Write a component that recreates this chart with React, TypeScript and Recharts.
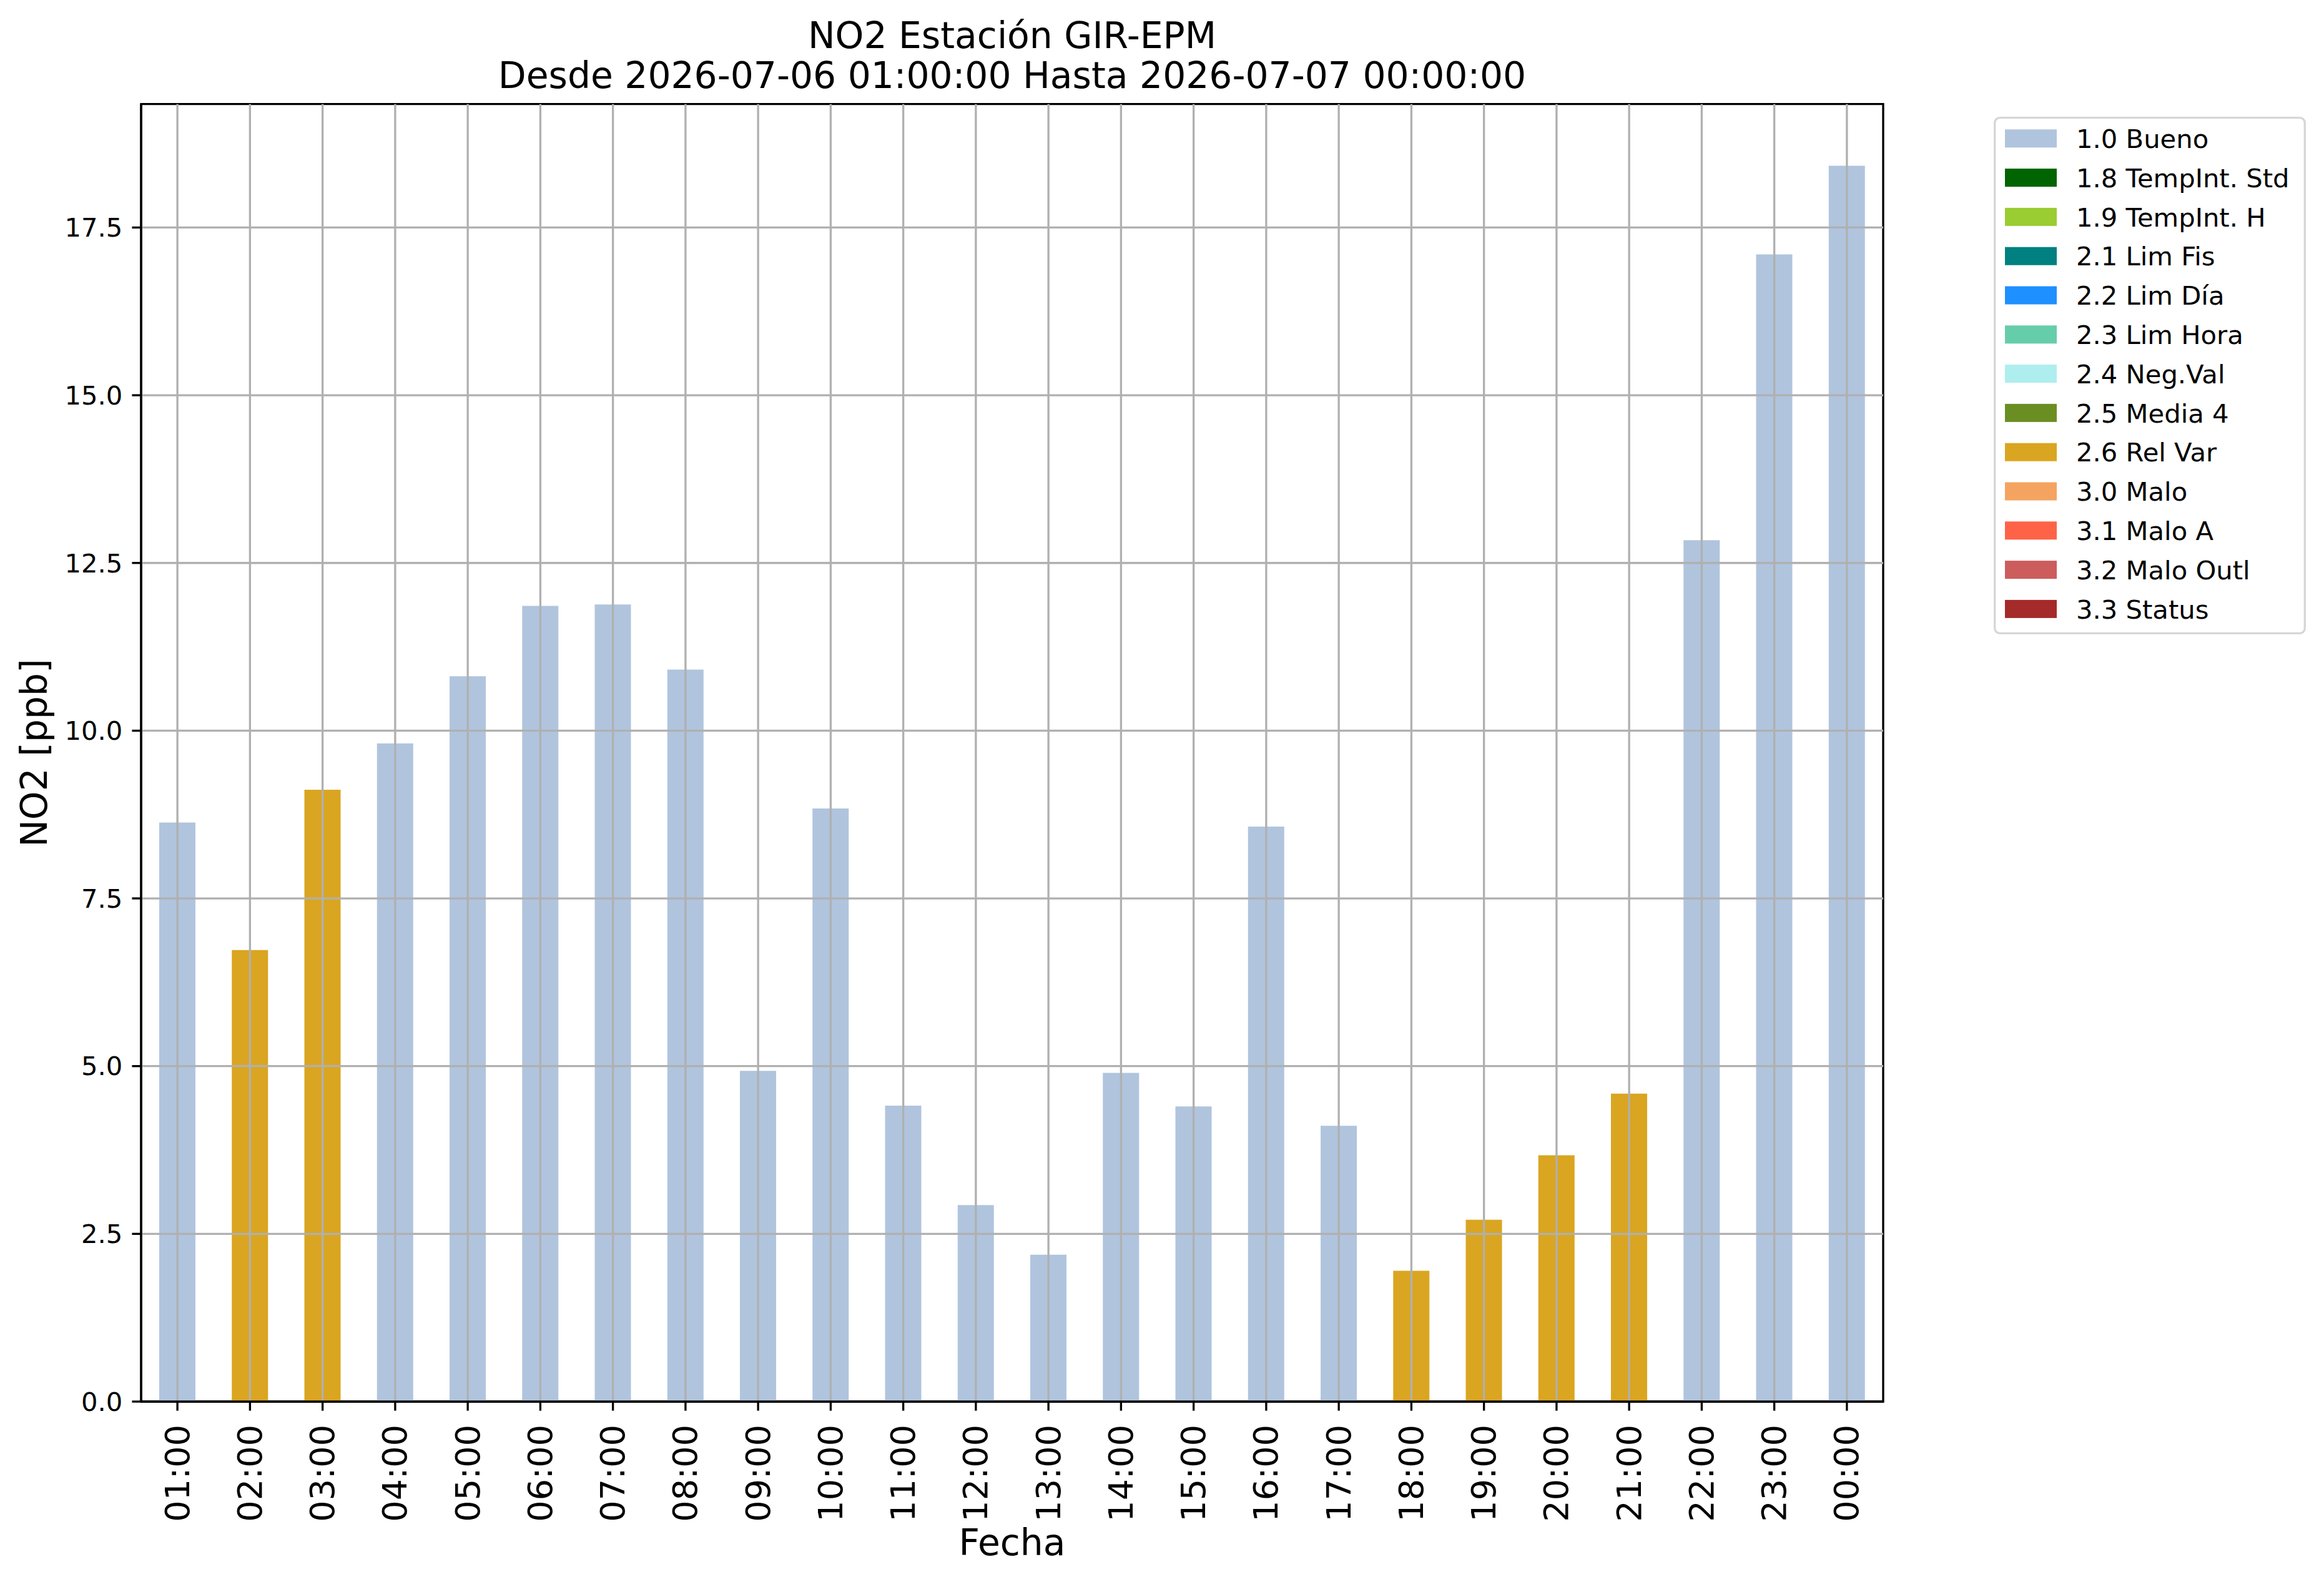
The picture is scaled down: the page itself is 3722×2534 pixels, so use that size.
import React from 'react';
import { BarChart, Bar, XAxis, YAxis, ReferenceLine, ReferenceArea, Legend } from 'recharts';

const hours = ['01:00', '02:00', '03:00', '04:00', '05:00', '06:00', '07:00', '08:00', '09:00', '10:00', '11:00', '12:00',
  '13:00', '14:00', '15:00', '16:00', '17:00', '18:00', '19:00', '20:00', '21:00', '22:00', '23:00', '00:00'];

const bueno = [8.63, null, null, 9.81, 10.81, 11.86, 11.88, 10.91, 4.93, 8.84, 4.41, 2.93,
  2.19, 4.90, 4.40, 8.57, 4.11, null, null, null, null, 12.84, 17.10, 18.42];

const relVar = [null, 6.73, 9.12, null, null, null, null, null, null, null, null, null,
  null, null, null, null, null, 1.95, 2.71, 3.67, 4.59, null, null, null];

const flagKeys = ['f10', 'f18', 'f19', 'f21', 'f22', 'f23', 'f24', 'f25', 'f26', 'f30', 'f31', 'f32', 'f33'];
const flagNames = ['1.0 Bueno', '1.8 TempInt. Std', '1.9 TempInt. H', '2.1 Lim Fis', '2.2 Lim Día', '2.3 Lim Hora',
  '2.4 Neg.Val', '2.5 Media 4', '2.6 Rel Var', '3.0 Malo', '3.1 Malo A', '3.2 Malo Outl', '3.3 Status'];
const flagColors = ['#B0C4DE', '#006400', '#9ACD32', '#008080', '#1E90FF', '#66CDAA', '#AFEEEE', '#6B8E23',
  '#DAA520', '#F4A460', '#FF6347', '#CD5C5C', '#A52A2A'];

const yTicks = [0, 2.5, 5, 7.5, 10, 12.5, 15, 17.5];
const yMax = 19.34;

const titleLine1 = 'NO2 Estación GIR-EPM';
const titleLine2 = 'Desde 2026-07-06 01:00:00 Hasta 2026-07-07 00:00:00';
const xLabel = 'Fecha';
const yLabel = 'NO2 [ppb]';

const data = hours.map((h, i) => ({ hour: h, f10: bueno[i], f26: relVar[i] }));

const FONT = '"DejaVu Sans", sans-serif';
const GRID = '#b0b0b0';
const LW = 3.33;

const W = 3722;
const H = 2534;
const PLOT_LEFT = 226;
const PLOT_RIGHT = 3016;
const PLOT_TOP = 166.7;
const PLOT_BOTTOM = 2245;
const CX = (PLOT_LEFT + PLOT_RIGHT) / 2;

const XTick = (props: any) => {
  const { x, y, payload } = props;
  return (
    <text
      x={x}
      y={y}
      transform={`rotate(-90 ${x} ${y})`}
      textAnchor="end"
      dominantBaseline="central"
      fontSize={54}
      fontFamily={FONT}
      fill="#000"
    >
      {payload.value}
    </text>
  );
};

const LegendBox = (props: any) => {
  const payload = (props.payload && props.payload.length ? props.payload : flagNames.map((n, i) => ({ value: n, color: flagColors[i] })));
  const rowH = 62.8;
  const first = 34.8;
  return (
    <svg width={500} height={829} style={{ display: 'block' }}>
      <rect x={1.7} y={1.7} width={496.6} height={825.6} rx={8} ry={8} fill="#fff" stroke="#d6d6d6" strokeWidth={3.33} />
      {payload.map((p: any, i: number) => {
        const cy = first + rowH * i;
        return (
          <g key={i}>
            <rect x={18} y={cy - 14.5} width={83} height={29} fill={p.color} />
            <text x={132} y={cy + 15.2} fontSize={41.7} fontFamily={FONT} fill="#000">{p.value}</text>
          </g>
        );
      })}
    </svg>
  );
};

export default function App() {
  return (
    <div style={{ position: 'absolute', left: 0, top: 0, width: W, height: H, background: '#fff' }}>
      <BarChart
        width={W}
        height={H}
        data={data}
        margin={{ top: PLOT_TOP, right: W - PLOT_RIGHT, bottom: 0, left: 0 }}
        barSize={58}
      >
        <XAxis
          dataKey="hour"
          height={H - PLOT_BOTTOM}
          interval={0}
          tickSize={14.6}
          tickMargin={22.4}
          tickLine={{ stroke: '#000', strokeWidth: LW }}
          axisLine={{ stroke: '#000', strokeWidth: LW }}
          tick={<XTick />}
        />
        <YAxis
          width={PLOT_LEFT}
          domain={[0, yMax]}
          ticks={yTicks}
          interval={0}
          tickFormatter={(v: number) => v.toFixed(1)}
          tickSize={14.6}
          tickMargin={15}
          tickLine={{ stroke: '#000', strokeWidth: LW }}
          axisLine={{ stroke: '#000', strokeWidth: LW }}
          tick={{ fontSize: 41.7, fontFamily: FONT, fill: '#000' }}
          allowDataOverflow
        />
        {flagKeys.map((k, i) => (
          <Bar key={k} dataKey={k} name={flagNames[i]} fill={flagColors[i]} stackId="s" isAnimationActive={false} />
        ))}
        {yTicks.filter((t) => t > 0).map((t) => (
          <ReferenceLine key={'h' + t} y={t} stroke={GRID} strokeWidth={LW} />
        ))}
        {hours.map((h) => (
          <ReferenceLine key={'v' + h} x={h} stroke={GRID} strokeWidth={LW} />
        ))}
        <ReferenceArea
          x1={hours[0]}
          x2={hours[hours.length - 1]}
          y1={0}
          y2={yMax}
          fill="none"
          fillOpacity={0}
          stroke="#000"
          strokeWidth={LW}
          strokeOpacity={1}
        />
        <Legend
          layout="vertical"
          align="center"
          verticalAlign="middle"
          wrapperStyle={{ left: 3193, top: 187, width: 500, height: 829 }}
          content={<LegendBox />}
        />
      </BarChart>
      <svg width={W} height={H} style={{ position: 'absolute', left: 0, top: 0, pointerEvents: 'none' }}>
        <text x={CX} y={76.5} textAnchor="middle" fontSize={58.3} fontFamily={FONT} fill="#000">{titleLine1}</text>
        <text x={CX} y={141} textAnchor="middle" fontSize={58.3} fontFamily={FONT} fill="#000">{titleLine2}</text>
        <text x={CX} y={2491} textAnchor="middle" fontSize={58.3} fontFamily={FONT} fill="#000">{xLabel}</text>
        <text x={74.6} y={1206} transform="rotate(-90 74.6 1206)" textAnchor="middle" fontSize={58.3} fontFamily={FONT} fill="#000">{yLabel}</text>
      </svg>
    </div>
  );
}
